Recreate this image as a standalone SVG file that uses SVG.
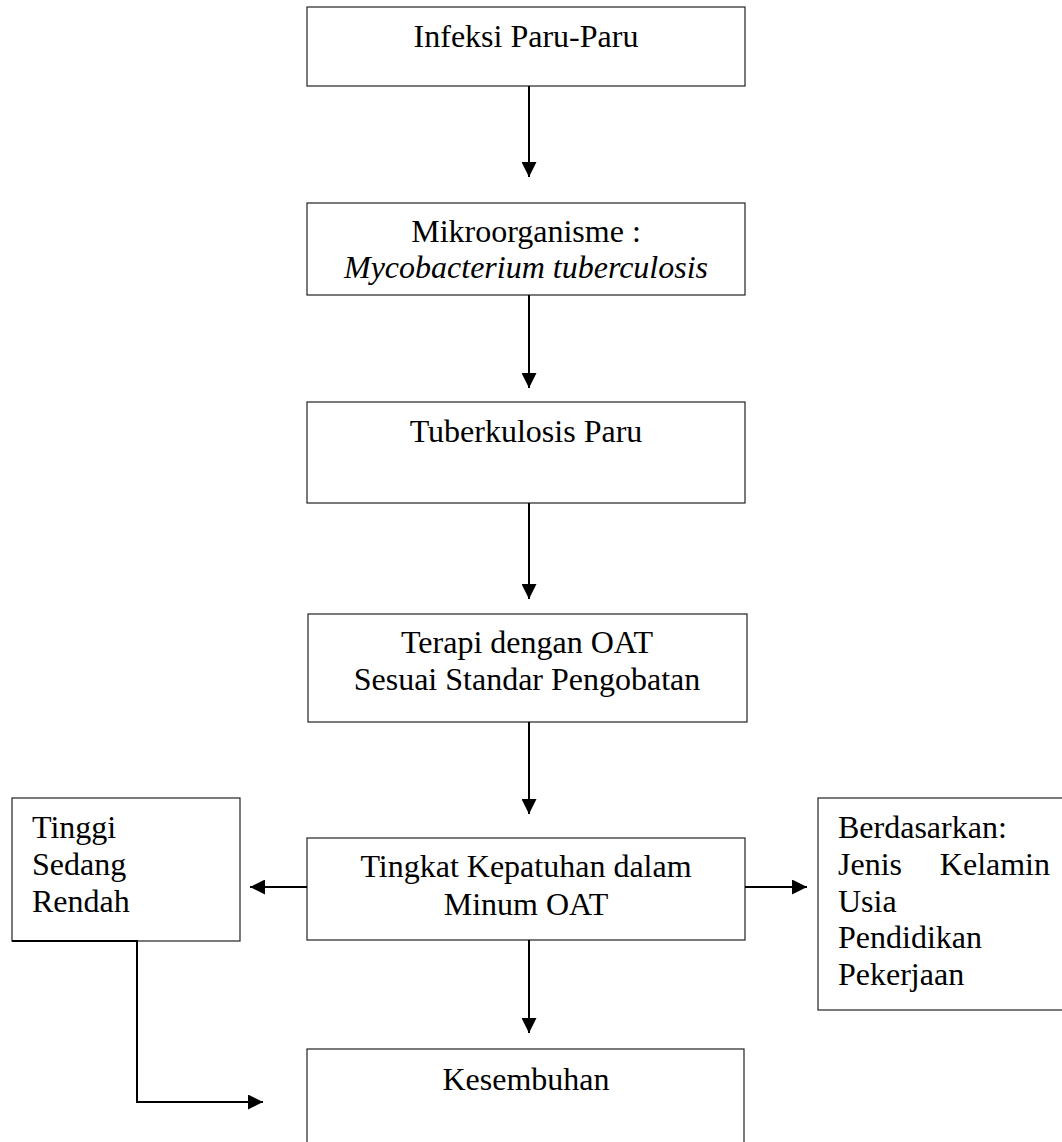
<svg xmlns="http://www.w3.org/2000/svg" width="1062" height="1142" viewBox="0 0 1062 1142">
<style>
.box{fill:#fff;stroke:#222;stroke-width:1.2}
.t{font-family:"Liberation Serif","Times New Roman",serif;font-size:32px;fill:#000}
.c{text-anchor:middle}
.con{fill:none;stroke:#000;stroke-width:2}
</style>
<defs>
<marker id="ah" markerWidth="8" markerHeight="8" refX="7.5" refY="4" orient="auto" markerUnits="userSpaceOnUse" viewBox="0 0 8 8">
<path d="M0,0 L8,4 L0,8 Z" fill="#000"/>
</marker>
<marker id="a" markerWidth="15" markerHeight="15" refX="15" refY="7.5" orient="auto" markerUnits="userSpaceOnUse" viewBox="0 0 15 15">
<path d="M0,0 L15,7.5 L0,15 Z" fill="#000"/>
</marker>
</defs>
<rect width="1062" height="1142" fill="#fff"/>
<g id="n1"><rect class="box" x="307" y="7" width="438" height="79"/><text class="t c" x="526" y="47">Infeksi Paru-Paru</text></g>
<g id="n2"><rect class="box" x="307" y="203" width="438" height="92"/><text class="t c" x="526" y="242">Mikroorganisme :</text><text class="t c" x="526" y="278" font-style="italic">Mycobacterium tuberculosis</text></g>
<g id="n3"><rect class="box" x="307" y="402" width="438" height="101"/><text class="t c" x="526" y="442">Tuberkulosis Paru</text></g>
<g id="n4"><rect class="box" x="308" y="614" width="439" height="108"/><text class="t c" x="527" y="653">Terapi dengan OAT</text><text class="t c" x="527" y="690">Sesuai Standar Pengobatan</text></g>
<g id="n5"><rect class="box" x="307" y="838" width="438" height="102"/><text class="t c" x="526" y="877">Tingkat Kepatuhan dalam</text><text class="t c" x="526" y="915">Minum OAT</text></g>
<g id="n6"><rect class="box" x="12" y="798" width="228" height="143"/><text class="t" x="32" y="838">Tinggi</text><text class="t" x="32" y="875">Sedang</text><text class="t" x="32" y="912">Rendah</text></g>
<g id="n7"><rect class="box" x="818" y="798" width="260" height="212"/><text class="t" x="838" y="838">Berdasarkan:</text><text class="t" x="838" y="875">Jenis</text><text class="t" x="1050" y="875" text-anchor="end">Kelamin</text><text class="t" x="838" y="912">Usia</text><text class="t" x="838" y="948">Pendidikan</text><text class="t" x="838" y="985">Pekerjaan</text></g>
<g id="n8"><rect class="box" x="307" y="1049" width="437" height="110"/><text class="t c" x="526" y="1090">Kesembuhan</text></g>
<g id="connectors">
<path class="con" d="M529,86 V177" marker-end="url(#a)"/>
<path class="con" d="M529,295 V388" marker-end="url(#a)"/>
<path class="con" d="M529,503 V599" marker-end="url(#a)"/>
<path class="con" d="M529,722 V814" marker-end="url(#a)"/>
<path class="con" d="M529,940 V1033" marker-end="url(#a)"/>
<path class="con" d="M307,887 H250" marker-end="url(#a)"/>
<path class="con" d="M745,887 H807" marker-end="url(#a)"/>
<path class="con" d="M12,941 H137 V1102 H263" marker-end="url(#a)"/>
</g>
</svg>
